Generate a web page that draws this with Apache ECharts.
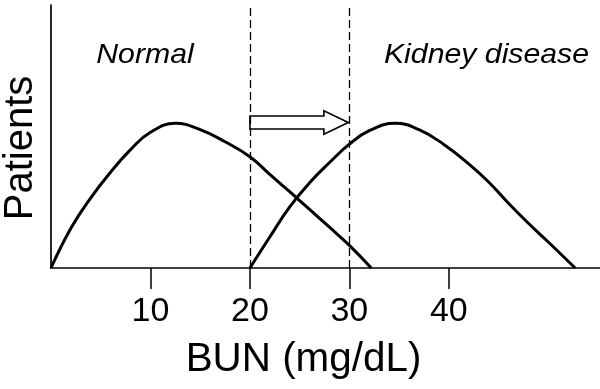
<!DOCTYPE html>
<html>
<head>
<meta charset="utf-8">
<script src="https://cdn.jsdelivr.net/npm/echarts@6/dist/echarts.min.js"></script>
<style>
  html, body { margin: 0; padding: 0; background: #fff; }
  #chart { width: 600px; height: 389px; }
</style>
</head>
<body>
<div id="chart"></div>
<script>
// ---- data ----
var normalX = [0, 2, 4, 6, 8, 10, 12.5, 15, 17.5, 20, 22, 24, 26, 28, 30, 32.2];
var normalY = [0, 15.1, 26.7, 36.5, 45.0, 51.6, 55.0, 52.6, 48.0, 42.3, 35.6, 29.0, 22.3, 15.5, 8.6, 0];
var kidneyX = [20, 22, 24, 26, 28, 30, 32, 34.6, 37, 39.5, 42, 44, 46, 48, 50, 52.7];
var kidneyY = [0, 11.8, 23.2, 32.4, 40.1, 47.1, 52.2, 55.0, 52.6, 47.0, 39.6, 32.7, 24.6, 17.0, 9.9, 0];
var tickValues = [10, 20, 30, 40];
var thresholds = [20, 30];            // dashed reference lines (mg/dL)
var shiftArrow = [20, 30, 55.3];      // arrow from x=20 to x=30 at height 55.3
var xLabel = 'BUN (mg/dL)';
var yLabel = 'Patients';
var groupLabels = ['Normal', 'Kidney disease'];

function zip(xs, ys) { return xs.map(function (x, i) { return [x, ys[i]]; }); }

var chart = echarts.init(document.getElementById('chart'), null, { renderer: 'canvas' });
var FONT = '"Liberation Sans", Arial, Helvetica, sans-serif';

chart.setOption({
  animation: false,
  backgroundColor: '#ffffff',
  grid: { left: 51, right: 0, top: 5, bottom: 121, containLabel: false },
  xAxis: {
    type: 'value', min: 0, max: 55.2, interval: 10,
    splitLine: { show: false },
    axisLine: { lineStyle: { color: '#000', width: 1.7 } },
    axisTick: { show: true, inside: false, length: 21, customValues: tickValues,
                lineStyle: { color: '#000', width: 1.5 } },
    axisLabel: { customValues: tickValues, margin: 27, color: '#000',
                 fontFamily: FONT, fontSize: 34 }
  },
  yAxis: {
    type: 'value', min: 0, max: 100,
    splitLine: { show: false },
    axisLine: { show: true, onZero: false, lineStyle: { color: '#000', width: 1.7 } },
    axisTick: { show: false },
    axisLabel: { show: false }
  },
  series: [
    {
      name: groupLabels[0], type: 'line', data: zip(normalX, normalY),
      smooth: 0.45, showSymbol: false, symbol: 'none',
      lineStyle: { color: '#000', width: 3 },
      markLine: {
        silent: true, symbol: 'none', label: { show: false },
        lineStyle: { color: '#000', width: 1.3, type: [8, 4] },
        data: thresholds.map(function (v) { return { xAxis: v }; })
      },
      z: 3
    },
    {
      name: groupLabels[1], type: 'line', data: zip(kidneyX, kidneyY),
      smooth: 0.45, showSymbol: false, symbol: 'none',
      lineStyle: { color: '#000', width: 3 },
      z: 3
    },
    {
      type: 'custom',
      data: [shiftArrow],
      z: 4,
      renderItem: function (params, api) {
        var y = api.value(2);
        var p0 = api.coord([api.value(0), y]);
        var p1 = api.coord([api.value(1), y]);
        var x0 = p0[0], x1 = p1[0] - 1, cy = p0[1];
        var sh = 6.5, hh = 11.7, hl = 24.5;
        return {
          type: 'polygon',
          shape: { points: [
            [x0, cy - sh], [x1 - hl, cy - sh], [x1 - hl, cy - hh], [x1, cy],
            [x1 - hl, cy + hh], [x1 - hl, cy + sh], [x0, cy + sh]
          ] },
          style: { fill: '#fff', stroke: '#000', lineWidth: 1.6 }
        };
      }
    }
  ],
  graphic: [
    { type: 'text', x: 145, y: 55, scaleX: 1.08,
      style: { text: groupLabels[0], font: 'italic 28px ' + FONT, fill: '#000',
               align: 'center', verticalAlign: 'middle' } },
    { type: 'text', x: 486.5, y: 55, scaleX: 1.08,
      style: { text: groupLabels[1], font: 'italic 28px ' + FONT, fill: '#000',
               align: 'center', verticalAlign: 'middle' } },
    { type: 'text', x: 303.5, y: 360, scaleX: 1.01,
      style: { text: xLabel, font: '40px ' + FONT, fill: '#000',
               align: 'center', verticalAlign: 'middle' } },
    { type: 'text', x: 20.5, y: 148, rotation: Math.PI / 2,
      style: { text: yLabel, font: '40px ' + FONT, fill: '#000',
               align: 'center', verticalAlign: 'middle' } }
  ]
});
</script>
</body>
</html>
